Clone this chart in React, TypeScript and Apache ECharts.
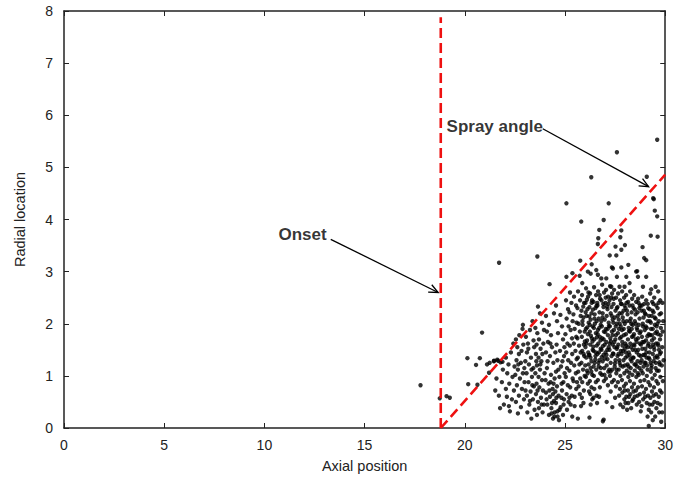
import React, { useEffect, useRef } from "react";
import * as echarts from "echarts";

// Axis ranges and ticks
const xRange = [0, 30];
const xInterval = 5;
const yRange = [0, 8];
const yInterval = 1;

// Axis titles
const xTitle = "Axial position";
const yTitle = "Radial location";

// Reference lines (data space)
const onsetLine: [number, number][] = [[18.8, 0], [18.8, 7.88]];
const sprayLine: [number, number][] = [[18.8, 0], [30, 4.86]];

// Annotation texts and arrows: [x1, y1, x2, y2]
const labelNames = ["Onset", "Spray angle"];
const labelPos: [number, number][] = [[10.7, 3.72], [19.09, 5.78]];
const arrows: [number, number, number, number][] = [
  [13.31, 3.62, 18.67, 2.6],
  [23.89, 5.74, 29.17, 4.63],
];

// Sparse / outlying droplets
const sparsePoints: [number, number][] = [
  [17.79, 0.82], [18.75, 0.57], [19.09, 0.61], [19.25, 0.58], [20.13, 1.34], [20.17, 0.84], [20.63, 0.83],
  [20.75, 1.34], [20.86, 1.83], [20.56, 1.21], [21.11, 1.22], [21.21, 1.06], [21.71, 3.17], [23.62, 3.29],
  [24.23, 2.76], [25.07, 4.31], [25.76, 3.21], [25.81, 3.96], [26.31, 4.81], [26.33, 3.14], [26.64, 3.53],
  [26.66, 3.64], [26.71, 3.8], [26.93, 3.99], [27.18, 4.31], [27.23, 3.31], [27.34, 3.08], [27.52, 3.48],
  [27.56, 3.31], [27.59, 5.29], [27.76, 3.66], [27.81, 3.79], [27.81, 3.42], [27.81, 3.08], [27.99, 3.51],
  [28.16, 3.13], [28.6, 3.01], [28.87, 3.47], [28.95, 3.26], [29.05, 3.22], [29.08, 4.82], [29.28, 3.69],
  [29.4, 4.41], [29.43, 4.39], [29.48, 4.17], [29.6, 4.06], [29.6, 5.53], [29.62, 3.67],
  [25.07, 2.9], [25.37, 2.97], [25.73, 2.92], [25.86, 2.78], [26.14, 3.0], [26.28, 2.96], [26.56, 3.03],
  [26.64, 2.94], [26.81, 2.87], [27.06, 2.87], [27.31, 2.71], [27.39, 3.06], [27.59, 2.9], [27.72, 2.71],
  [27.97, 2.71], [28.06, 2.9], [28.22, 2.78], [28.55, 3.0], [28.64, 2.9], [28.89, 2.71], [29.05, 2.9],
  [29.3, 2.66], [29.52, 2.71], [21.24, 1.25], [21.46, 1.29], [21.66, 1.29], [21.88, 1.27], [22.9, 1.98],
];

// Near-nozzle cluster (x 21.4 - 25)
const clusterPoints: [number, number][] = [
  [21.45, 1.28], [21.62, 1.31], [21.78, 1.26], [21.9, 1.12], [21.58, 0.95], [21.85, 0.88], [21.7, 0.62],
  [21.95, 0.45], [21.76, 0.38], [21.52, 0.72],
  [22.05, 1.35], [22.18, 1.22], [22.3, 1.45], [22.12, 1.05], [22.38, 0.98], [22.22, 0.85], [22.45, 0.72],
  [22.1, 0.6], [22.35, 0.55], [22.25, 0.32], [22.48, 1.18], [22.42, 1.62], [22.2, 0.42], [22.05, 0.75],
  [22.55, 1.7], [22.62, 1.55], [22.7, 1.42], [22.58, 1.3], [22.8, 1.25], [22.65, 1.12], [22.9, 1.05],
  [22.75, 0.95], [22.6, 0.82], [22.85, 0.75], [22.7, 0.62], [22.95, 0.55], [22.55, 0.5], [22.8, 0.4],
  [22.65, 0.28], [22.92, 1.6], [22.88, 1.9], [22.72, 1.78], [22.98, 0.88], [22.52, 1.02],
  [23.05, 1.75], [23.15, 1.62], [23.25, 1.88], [23.1, 1.45], [23.3, 1.35], [23.2, 1.22], [23.42, 1.15],
  [23.08, 1.05], [23.35, 0.98], [23.18, 0.88], [23.45, 0.8], [23.28, 0.7], [23.1, 0.62], [23.4, 0.55],
  [23.22, 0.45], [23.48, 0.35], [23.12, 0.3], [23.38, 2.05], [23.02, 1.28], [23.46, 1.55], [23.32, 0.18],
  [23.25, 0.52],
  [23.52, 1.92], [23.62, 1.82], [23.7, 1.7], [23.58, 1.6], [23.78, 1.52], [23.55, 1.42], [23.68, 1.35],
  [23.82, 1.28], [23.6, 1.2], [23.75, 1.12], [23.52, 1.05], [23.68, 0.98], [23.85, 0.92], [23.58, 0.85],
  [23.72, 0.78], [23.9, 0.72], [23.55, 0.65], [23.8, 0.58], [23.65, 0.5], [23.95, 0.45], [23.7, 0.38],
  [23.88, 0.3], [23.6, 0.25], [23.92, 1.62], [23.98, 1.05], [23.85, 2.02], [23.75, 2.2], [23.95, 1.88],
  [23.65, 2.33],
  [24.05, 2.15], [24.2, 1.98], [24.1, 1.85], [24.3, 1.78], [24.45, 2.2], [24.15, 1.65], [24.35, 1.55],
  [24.05, 1.45], [24.25, 1.38], [24.42, 1.25], [24.1, 1.15], [24.3, 1.02], [24.48, 0.95], [24.18, 0.85],
  [24.38, 0.75], [24.05, 0.68], [24.25, 0.6], [24.45, 0.52], [24.12, 0.45], [24.32, 0.38], [24.48, 0.3],
  [24.2, 0.25], [24.4, 0.18], [24.28, 0.88], [24.08, 0.55], [24.4, 0.65],
  [24.55, 2.35], [24.77, 2.17], [24.6, 2.05], [24.85, 1.95], [24.65, 1.82], [24.9, 1.7], [24.58, 1.6],
  [24.75, 1.48], [24.95, 1.38], [24.62, 1.3], [24.8, 1.18], [24.55, 1.08], [24.72, 0.98], [24.92, 0.88],
  [24.6, 0.8], [24.85, 0.72], [24.68, 0.62], [24.95, 0.55], [24.55, 0.48], [24.78, 0.4], [24.62, 0.32],
  [24.9, 0.25], [24.7, 0.15], [24.98, 1.05], [24.52, 0.7], [24.82, 0.58],
  [22.67, 1.22], [22.83, 1.48], [22.97, 1.15], [23.03, 0.72], [23.17, 1.52], [23.33, 1.12], [23.37, 0.82],
  [23.43, 1.68], [23.57, 1.28], [23.63, 0.72], [23.77, 1.22], [23.83, 0.45], [23.87, 1.42], [24.03, 0.92],
  [24.13, 1.28], [24.22, 0.72], [24.27, 1.62], [24.35, 0.48], [24.43, 0.85], [24.52, 1.45], [24.57, 0.58],
  [24.67, 1.12], [24.73, 0.35], [24.83, 0.85], [24.87, 1.28], [24.93, 0.45], [24.97, 1.55], [24.63, 0.22],
  [24.47, 0.22], [24.33, 0.28],
];

// Main spray body (x 25 - 30)
const bodyPoints: [number, number][] = [
  [25.05, 2.45], [25.15, 2.28], [25.08, 2.1], [25.18, 1.95], [25.02, 1.8], [25.12, 1.62], [25.06, 1.45],
  [25.16, 1.3], [25.1, 1.15], [25.04, 0.98], [25.14, 0.82], [25.08, 0.65], [25.18, 0.5], [25.1, 0.35],
  [25.25, 2.6], [25.32, 2.4], [25.22, 2.22], [25.38, 2.05], [25.28, 1.88], [25.35, 1.72], [25.24, 1.58],
  [25.36, 1.42], [25.3, 1.25], [25.22, 1.1], [25.38, 0.95], [25.26, 0.78], [25.34, 0.62], [25.28, 0.45],
  [25.36, 0.22],
  [25.45, 2.52], [25.55, 2.35], [25.42, 2.18], [25.58, 2.02], [25.48, 1.9], [25.56, 1.75], [25.44, 1.62],
  [25.52, 1.48], [25.58, 1.32], [25.46, 1.2], [25.54, 1.05], [25.42, 0.9], [25.56, 0.75], [25.48, 0.6],
  [25.64, 0.18],
  [25.65, 2.62], [25.75, 2.45], [25.62, 2.3], [25.78, 2.15], [25.68, 2.0], [25.74, 1.85], [25.62, 1.72],
  [25.7, 1.58], [25.78, 1.45], [25.64, 1.35], [25.72, 1.22], [25.66, 1.08], [25.76, 0.95], [25.68, 0.8],
  [25.74, 0.65], [25.8, 0.42],
  [25.85, 2.55], [25.95, 2.4], [25.82, 2.25], [25.92, 2.12], [25.88, 1.98], [25.98, 1.85], [25.84, 1.75],
  [25.94, 1.6], [25.86, 1.48], [25.96, 1.38], [25.82, 1.25], [25.9, 1.12], [25.98, 1.0], [25.86, 0.88],
  [25.94, 0.72], [25.84, 0.58],
  [26.05, 2.68], [26.15, 2.52], [26.02, 2.4], [26.12, 2.28], [26.08, 2.15], [26.18, 2.02], [26.04, 1.9],
  [26.14, 1.8], [26.1, 1.68], [26.02, 1.55], [26.16, 1.45], [26.06, 1.35], [26.18, 1.22], [26.1, 1.1],
  [26.04, 0.98], [26.14, 0.85], [26.2, 0.7],
  [26.25, 2.58], [26.35, 2.45], [26.22, 2.32], [26.32, 2.2], [26.28, 2.08], [26.38, 1.95], [26.24, 1.85],
  [26.34, 1.72], [26.26, 1.6], [26.38, 1.5], [26.22, 1.4], [26.32, 1.28], [26.28, 1.15], [26.36, 1.02],
  [26.24, 0.9], [26.32, 0.78], [26.26, 0.65], [26.36, 0.55], [26.22, 0.2],
  [26.45, 2.7], [26.55, 2.55], [26.42, 2.42], [26.52, 2.3], [26.48, 2.18], [26.58, 2.05], [26.44, 1.92],
  [26.54, 1.82], [26.46, 1.7], [26.58, 1.58], [26.42, 1.48], [26.52, 1.38], [26.48, 1.25], [26.56, 1.12],
  [26.44, 1.0], [26.54, 0.88], [26.46, 0.75], [26.58, 0.62],
  [26.65, 2.62], [26.75, 2.48], [26.62, 2.35], [26.72, 2.22], [26.68, 2.1], [26.78, 1.98], [26.64, 1.88],
  [26.74, 1.75], [26.66, 1.62], [26.78, 1.52], [26.62, 1.42], [26.72, 1.3], [26.68, 1.18], [26.76, 1.05],
  [26.64, 0.92], [26.74, 0.78], [26.7, 0.6], [26.93, 0.16],
  [26.85, 2.75], [26.95, 2.6], [26.82, 2.45], [26.92, 2.32], [26.88, 2.2], [26.98, 2.08], [26.84, 1.95],
  [26.94, 1.85], [26.86, 1.72], [26.98, 1.6], [26.82, 1.5], [26.92, 1.4], [26.88, 1.28], [26.96, 1.15],
  [26.84, 1.02], [26.94, 0.9], [26.89, 0.13],
  [27.05, 2.65], [27.15, 2.52], [27.02, 2.4], [27.12, 2.28], [27.08, 2.15], [27.18, 2.02], [27.04, 1.9],
  [27.14, 1.78], [27.06, 1.65], [27.18, 1.55], [27.02, 1.45], [27.12, 1.32], [27.08, 1.2], [27.16, 1.08],
  [27.04, 0.95], [27.14, 0.82], [27.08, 0.5],
  [27.25, 2.72], [27.35, 2.58], [27.22, 2.45], [27.32, 2.32], [27.28, 2.2], [27.38, 2.08], [27.24, 1.95],
  [27.34, 1.85], [27.26, 1.72], [27.38, 1.6], [27.22, 1.5], [27.32, 1.38], [27.28, 1.25], [27.36, 1.12],
  [27.24, 1.0], [27.34, 0.88], [27.28, 0.7], [27.36, 0.4],
  [27.45, 2.65], [27.55, 2.5], [27.42, 2.38], [27.52, 2.25], [27.48, 2.12], [27.58, 2.0], [27.44, 1.88],
  [27.54, 1.78], [27.46, 1.65], [27.58, 1.52], [27.42, 1.42], [27.52, 1.3], [27.48, 1.18], [27.56, 1.05],
  [27.44, 0.92], [27.54, 0.8], [27.5, 0.58],
  [27.65, 2.58], [27.75, 2.45], [27.62, 2.32], [27.72, 2.2], [27.68, 2.08], [27.78, 1.95], [27.64, 1.82],
  [27.74, 1.72], [27.66, 1.6], [27.78, 1.48], [27.62, 1.38], [27.72, 1.25], [27.68, 1.12], [27.76, 1.0],
  [27.64, 0.88], [27.74, 0.75], [27.7, 0.62], [27.76, 0.45],
  [27.85, 2.62], [27.95, 2.5], [27.82, 2.38], [27.92, 2.25], [27.88, 2.12], [27.98, 2.0], [27.84, 1.88],
  [27.94, 1.78], [27.86, 1.65], [27.98, 1.52], [27.82, 1.42], [27.92, 1.3], [27.88, 1.18], [27.96, 1.05],
  [27.84, 0.92], [27.94, 0.8], [27.86, 0.68], [27.96, 0.55], [27.9, 0.4],
  [28.05, 2.55], [28.15, 2.42], [28.02, 2.3], [28.12, 2.18], [28.08, 2.05], [28.18, 1.92], [28.04, 1.8],
  [28.14, 1.7], [28.06, 1.58], [28.18, 1.45], [28.02, 1.35], [28.12, 1.22], [28.08, 1.1], [28.16, 0.98],
  [28.04, 0.85], [28.14, 0.72], [28.06, 0.6], [28.16, 0.48], [28.1, 0.35],
  [28.25, 2.62], [28.35, 2.48], [28.22, 2.35], [28.32, 2.22], [28.28, 2.1], [28.38, 1.98], [28.24, 1.85],
  [28.34, 1.75], [28.26, 1.62], [28.38, 1.5], [28.22, 1.4], [28.32, 1.28], [28.28, 1.15], [28.36, 1.02],
  [28.24, 0.9], [28.34, 0.78], [28.26, 0.65], [28.36, 0.52], [28.3, 0.38],
  [28.45, 2.55], [28.55, 2.42], [28.42, 2.3], [28.52, 2.18], [28.48, 2.05], [28.58, 1.92], [28.44, 1.8],
  [28.54, 1.7], [28.46, 1.58], [28.58, 1.45], [28.42, 1.35], [28.52, 1.22], [28.48, 1.1], [28.56, 0.98],
  [28.44, 0.85], [28.54, 0.72], [28.48, 0.6], [28.58, 0.45],
  [28.65, 2.48], [28.75, 2.35], [28.62, 2.22], [28.72, 2.1], [28.68, 1.98], [28.78, 1.85], [28.64, 1.72],
  [28.74, 1.62], [28.66, 1.5], [28.78, 1.38], [28.62, 1.28], [28.72, 1.15], [28.68, 1.02], [28.76, 0.9],
  [28.64, 0.78], [28.74, 0.65], [28.7, 0.5], [28.78, 0.32],
  [28.85, 2.52], [28.95, 2.38], [28.82, 2.25], [28.92, 2.12], [28.88, 2.0], [28.98, 1.88], [28.84, 1.75],
  [28.94, 1.65], [28.86, 1.52], [28.98, 1.4], [28.82, 1.3], [28.92, 1.18], [28.88, 1.05], [28.96, 0.92],
  [28.84, 0.8], [28.94, 0.68], [28.9, 0.55],
  [29.05, 2.45], [29.15, 2.3], [29.02, 2.18], [29.12, 2.05], [29.08, 1.92], [29.18, 1.8], [29.04, 1.68],
  [29.14, 1.58], [29.06, 1.45], [29.18, 1.35], [29.02, 1.25], [29.12, 1.12], [29.08, 1.0], [29.16, 0.88],
  [29.04, 0.75], [29.14, 0.62], [29.08, 0.48], [29.18, 0.35], [29.12, 0.22], [29.18, 0.04],
  [29.25, 2.58], [29.35, 2.42], [29.22, 2.28], [29.32, 2.15], [29.28, 2.02], [29.38, 1.9], [29.24, 1.78],
  [29.34, 1.68], [29.26, 1.55], [29.38, 1.42], [29.22, 1.32], [29.32, 1.2], [29.28, 1.08], [29.36, 0.95],
  [29.24, 0.82], [29.34, 0.7], [29.26, 0.58], [29.36, 0.45], [29.3, 0.3], [29.38, 0.15],
  [29.45, 2.5], [29.55, 2.35], [29.42, 2.22], [29.52, 2.1], [29.48, 1.98], [29.58, 1.85], [29.44, 1.72],
  [29.54, 1.62], [29.46, 1.5], [29.58, 1.38], [29.42, 1.28], [29.52, 1.15], [29.48, 1.02], [29.56, 0.9],
  [29.44, 0.78], [29.54, 0.65], [29.46, 0.5], [29.56, 0.38], [29.5, 0.22],
  [29.65, 2.62], [29.75, 2.45], [29.62, 2.3], [29.72, 2.18], [29.68, 2.05], [29.78, 1.92], [29.64, 1.8],
  [29.74, 1.7], [29.66, 1.58], [29.78, 1.45], [29.62, 1.35], [29.72, 1.22], [29.68, 1.1], [29.76, 0.98],
  [29.64, 0.85], [29.74, 0.72], [29.68, 0.6], [29.76, 0.45], [29.7, 0.3], [29.8, 0.12],
  [29.85, 1.55], [29.9, 2.05], [29.88, 0.9], [29.92, 1.3], [29.86, 2.4],
  [25.22, 0.58], [25.48, 0.42], [25.6, 0.88], [25.92, 0.48], [26.28, 0.45], [26.42, 0.58], [26.6, 0.48],
  [27.98, 0.72], [28.02, 0.48], [28.2, 0.6], [28.4, 0.55], [28.42, 0.7], [28.62, 0.62], [28.82, 0.42],
  [29.0, 0.6], [29.22, 0.45], [29.42, 0.62], [29.62, 0.48], [29.82, 0.68], [29.85, 0.3],
];

// Dense core, extra layers
const corePoints: [number, number][] = [
  [25.91, 2.33], [25.99, 1.66], [26.01, 1.2], [26.09, 2.46], [26.11, 1.93], [26.19, 1.4], [26.21, 2.14],
  [26.29, 1.77], [26.31, 1.08], [26.39, 2.27], [26.41, 1.56], [26.49, 2.0], [26.51, 1.31], [26.59, 1.74],
  [26.61, 2.4], [26.69, 1.45], [26.71, 1.92], [26.79, 1.15], [26.81, 2.05], [26.89, 1.57], [26.91, 2.38],
  [26.99, 1.33], [27.01, 1.84], [27.09, 2.33], [27.11, 1.5], [27.19, 1.96], [27.21, 1.12], [27.29, 1.66],
  [27.31, 2.5], [27.39, 1.43], [27.41, 2.02], [27.49, 1.24], [27.51, 1.7], [27.59, 2.3], [27.61, 1.55],
  [27.69, 1.9], [27.71, 1.3], [27.79, 2.38], [27.81, 1.75], [27.89, 1.48], [27.91, 2.05], [27.99, 1.2],
  [28.01, 1.62], [28.09, 2.25], [28.11, 1.38], [28.19, 1.86], [28.21, 1.06], [28.29, 1.55], [28.31, 2.0],
  [28.39, 1.35], [28.41, 1.76], [28.49, 2.27], [28.51, 1.5], [28.59, 1.18], [28.61, 1.88], [28.69, 1.4],
  [28.71, 2.3], [28.79, 1.6], [28.81, 1.1], [28.89, 1.95], [28.91, 1.4], [28.99, 2.2], [29.01, 1.52],
  [29.09, 1.2], [29.11, 1.76], [29.19, 2.15], [29.21, 1.45], [29.29, 1.9], [29.31, 1.15], [29.39, 1.6],
  [29.41, 2.38], [29.49, 1.35], [29.51, 1.82], [29.59, 1.1], [29.61, 2.0], [29.69, 1.5], [29.71, 1.26],
  [29.79, 2.2],
  [25.87, 2.05], [25.93, 1.42], [26.03, 2.22], [26.07, 1.62], [26.13, 1.05], [26.17, 2.6], [26.23, 1.98],
  [26.27, 1.35], [26.33, 2.4], [26.37, 1.66], [26.43, 1.18], [26.47, 2.1], [26.53, 1.45], [26.57, 2.34],
  [26.63, 1.8], [26.67, 1.25], [26.73, 2.55], [26.77, 1.68], [26.83, 1.36], [26.87, 2.12], [26.93, 1.7],
  [26.97, 1.02], [27.03, 2.5], [27.07, 1.4], [27.13, 1.9], [27.17, 2.38], [27.23, 1.62], [27.27, 1.08],
  [27.33, 2.15], [27.37, 1.78], [27.43, 2.48], [27.47, 1.55], [27.53, 1.95], [27.57, 1.12], [27.63, 2.15],
  [27.67, 1.42], [27.73, 2.0], [27.77, 1.2], [27.83, 2.2], [27.87, 1.58], [27.93, 1.9], [27.97, 2.35],
  [28.03, 1.45], [28.07, 2.4], [28.13, 1.55], [28.17, 1.18], [28.23, 2.05], [28.27, 1.32], [28.33, 1.9],
  [28.37, 2.35], [28.43, 1.6], [28.47, 1.22], [28.53, 2.0], [28.57, 1.65], [28.63, 1.05], [28.67, 2.4],
  [28.73, 1.82], [28.77, 1.25], [28.83, 2.35], [28.87, 1.65], [28.93, 2.25], [28.97, 1.25], [29.03, 1.95],
  [29.07, 1.35], [29.13, 2.38], [29.17, 1.62], [29.23, 2.05], [29.27, 1.25], [29.33, 1.78], [29.37, 2.25],
  [29.43, 1.55], [29.47, 2.12], [29.53, 1.25], [29.57, 1.95], [29.63, 1.62], [29.67, 2.4], [29.73, 1.42],
  [29.77, 1.78], [29.83, 1.2], [29.87, 1.85],
];

const droplets = [...sparsePoints, ...clusterPoints, ...bodyPoints, ...corePoints];

const FONT = "'Liberation Sans', Arial, Helvetica, sans-serif";
const AXIS_COLOR = "#222";

export default function App() {
  const ref = useRef<HTMLDivElement>(null);

  useEffect(() => {
    if (!ref.current) return;
    const chart = echarts.init(ref.current, null, { renderer: "svg" });

    const axisCommon = {
      type: "value" as const,
      splitLine: { show: false },
      axisLine: { show: true, onZero: false, lineStyle: { color: AXIS_COLOR, width: 1.5 } },
      axisTick: { show: true, inside: true, length: 5, lineStyle: { color: AXIS_COLOR, width: 1 } },
    };

    chart.setOption({
      animation: false,
      backgroundColor: "#fff",
      textStyle: { fontFamily: FONT },
      grid: { left: 64, right: 10, top: 11, bottom: 52, containLabel: false },
      xAxis: [
        {
          ...axisCommon,
          min: xRange[0],
          max: xRange[1],
          interval: xInterval,
          position: "bottom",
          name: xTitle,
          nameLocation: "middle",
          nameGap: 30,
          nameTextStyle: { fontFamily: FONT, fontSize: 14.5, color: "#222" },
          axisLabel: { fontFamily: FONT, fontSize: 14, color: "#222", margin: 10 },
        },
        {
          ...axisCommon,
          min: xRange[0],
          max: xRange[1],
          interval: xInterval,
          position: "top",
          axisLabel: { show: false },
        },
      ],
      yAxis: [
        {
          ...axisCommon,
          min: yRange[0],
          max: yRange[1],
          interval: yInterval,
          position: "left",
          name: yTitle,
          nameLocation: "middle",
          nameGap: 37,
          nameRotate: 90,
          nameTextStyle: { fontFamily: FONT, fontSize: 14.5, color: "#222" },
          axisLabel: { fontFamily: FONT, fontSize: 14, color: "#222", margin: 11 },
        },
        {
          ...axisCommon,
          min: yRange[0],
          max: yRange[1],
          interval: yInterval,
          position: "right",
          axisLabel: { show: false },
        },
      ],
      series: [
        {
          type: "scatter",
          data: droplets,
          symbol: "circle",
          symbolSize: 4.4,
          itemStyle: { color: "#000" },
          silent: true,
        },
        {
          type: "line",
          data: onsetLine,
          symbol: "none",
          lineStyle: { color: "#ee1111", width: 2.6, type: [10, 5] },
          silent: true,
          z: 5,
        },
        {
          type: "line",
          data: sprayLine,
          symbol: "none",
          lineStyle: { color: "#ee1111", width: 2.6, type: [10, 5] },
          silent: true,
          z: 5,
        },
        {
          type: "custom",
          data: arrows,
          encode: { x: [0, 2], y: [1, 3] },
          clip: false,
          silent: true,
          z: 6,
          renderItem: (params: any, api: any) => {
            const p1 = api.coord([api.value(0), api.value(1)]);
            const p2 = api.coord([api.value(2), api.value(3)]);
            const ang = Math.atan2(p2[1] - p1[1], p2[0] - p1[0]);
            const len = 10;
            const spread = 0.42;
            const h1 = [p2[0] - len * Math.cos(ang - spread), p2[1] - len * Math.sin(ang - spread)];
            const h2 = [p2[0] - len * Math.cos(ang + spread), p2[1] - len * Math.sin(ang + spread)];
            const style = { stroke: "#000", lineWidth: 1.3, fill: null };
            return {
              type: "group",
              children: [
                { type: "line", shape: { x1: p1[0], y1: p1[1], x2: p2[0], y2: p2[1] }, style },
                { type: "polyline", shape: { points: [h1, p2, h2] }, style },
              ],
            };
          },
        },
        {
          type: "scatter",
          symbolSize: 0,
          silent: true,
          z: 7,
          data: labelNames.map((n, i) => ({ name: n, value: labelPos[i] })),
          label: {
            show: true,
            position: [0, 0],
            align: "left",
            verticalAlign: "middle",
            formatter: "{b}",
            fontFamily: FONT,
            fontWeight: "bold",
            fontSize: 17,
            color: "#000",
          },
        },
      ],
    });

    return () => chart.dispose();
  }, []);

  return (
    <div
      ref={ref}
      style={{ position: "fixed", left: 0, top: 0, width: 676, height: 480, background: "#fff" }}
    />
  );
}
